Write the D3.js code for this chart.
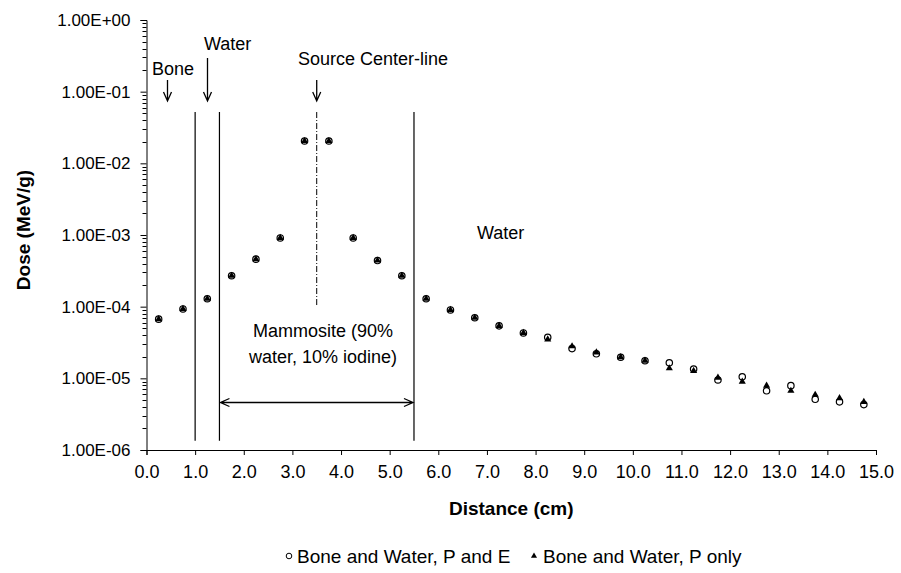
<!DOCTYPE html>
<html>
<head>
<meta charset="utf-8">
<script src="https://cdn.jsdelivr.net/npm/d3@7"></script>
<style>
  body { margin: 0; background: #fff; }
  text { font-family: Arial, "Liberation Sans", sans-serif; fill: #000; }
</style>
</head>
<body>
<div id="chart"></div>
<script>
// distances of the scoring bins (cm)
const distance = [0.25, 0.75, 1.25, 1.75, 2.25, 2.75, 3.25, 3.75, 4.25, 4.75,
  5.25, 5.75, 6.25, 6.75, 7.25, 7.75, 8.25, 8.75, 9.25, 9.75,
  10.25, 10.75, 11.25, 11.75, 12.25, 12.75, 13.25, 13.75, 14.25, 14.75];
// Bone and Water, P and E
const dosePE = [6.7e-5, 9.3e-5, 1.29e-4, 2.7e-4, 4.6e-4, 9.1e-4, 2.05e-2, 2.05e-2, 9.1e-4, 4.4e-4,
  2.7e-4, 1.29e-4, 9.0e-5, 7.0e-5, 5.4e-5, 4.3e-5, 3.74e-5, 2.6e-5, 2.2e-5, 1.97e-5,
  1.76e-5, 1.65e-5, 1.35e-5, 9.5e-6, 1.05e-5, 6.7e-6, 7.9e-6, 5.1e-6, 4.7e-6, 4.3e-6];
// Bone and Water, P only
const doseP = [6.7e-5, 9.3e-5, 1.29e-4, 2.7e-4, 4.6e-4, 9.1e-4, 2.05e-2, 2.05e-2, 9.1e-4, 4.4e-4,
  2.7e-4, 1.29e-4, 9.0e-5, 7.0e-5, 5.4e-5, 4.3e-5, 3.5e-5, 2.8e-5, 2.3e-5, 1.97e-5,
  1.76e-5, 1.38e-5, 1.27e-5, 1.02e-5, 9.0e-6, 7.9e-6, 6.7e-6, 5.9e-6, 5.3e-6, 4.7e-6];

const seriesNames = ['Bone and Water, P and E', 'Bone and Water, P only'];
const xTickValues = [0, 1, 2, 3, 4, 5, 6, 7, 8, 9, 10, 11, 12, 13, 14, 15];
const yTickValues = [1e-6, 1e-5, 1e-4, 1e-3, 1e-2, 1e-1, 1];
const yTickLabels = ['1.00E-06', '1.00E-05', '1.00E-04', '1.00E-03', '1.00E-02', '1.00E-01', '1.00E+00'];

// boundaries between the media (cm)
const boundaries = [1.0, 1.5, 5.5];
const sourceLine = 3.5;

const W = 901, H = 573;
const margin = {left: 146.5, right: 25, top: 20, bottom: 123};
const font = 'Arial, "Liberation Sans", sans-serif';

const svg = d3.select('#chart').append('svg')
  .attr('width', W)
  .attr('height', H);

const x = d3.scaleLinear().domain([0, 15]).range([margin.left, W - margin.right]);
const y = d3.scaleLog().domain([1e-6, 1]).range([H - margin.bottom, margin.top]);

// x axis
const xAxis = svg.append('g')
  .attr('transform', 'translate(0,' + y(1e-6) + ')')
  .call(d3.axisBottom(x).tickValues(xTickValues).tickSize(5).tickPadding(10).tickFormat(d3.format('.1f')));
xAxis.selectAll('text').style('font-size', '18px').style('font-family', font);

// y axis, major ticks
const yAxis = svg.append('g')
  .attr('transform', 'translate(' + x(0) + ',0)')
  .call(d3.axisLeft(y).tickValues(yTickValues).tickSize(6).tickPadding(10)
    .tickFormat((d, i) => yTickLabels[i]));
yAxis.selectAll('text').style('font-size', '17px').style('font-family', font);
svg.selectAll('.domain').attr('stroke', '#000');
svg.selectAll('.tick line').attr('stroke', '#000');

// minor ticks on the log axis
const minor = [];
yTickValues.slice(0, -1).forEach(v => {
  for (let k = 2; k <= 9; k++) minor.push(v * k);
});
svg.append('g').selectAll('line')
  .data(minor)
  .enter().append('line')
    .attr('x1', x(0) - 4).attr('x2', x(0))
    .attr('y1', d => Math.round(y(d)) + 0.5).attr('y2', d => Math.round(y(d)) + 0.5)
    .attr('stroke', '#000');

// axis titles
svg.append('text')
  .attr('transform', 'translate(23,230) rotate(-90)')
  .attr('text-anchor', 'middle')
  .attr('dy', '0.35em')
  .style('font-size', '19px')
  .style('font-weight', 'bold')
  .text('Dose (MeV/g)');

svg.append('text')
  .attr('x', (x(0) + x(15)) / 2)
  .attr('y', 515)
  .attr('text-anchor', 'middle')
  .style('font-size', '19px')
  .style('font-weight', 'bold')
  .text('Distance (cm)');

// medium boundary lines
svg.append('g').selectAll('line')
  .data(boundaries)
  .enter().append('line')
    .attr('x1', d => x(d)).attr('x2', d => x(d))
    .attr('y1', y(5.2e-2)).attr('y2', y(1.35e-6))
    .attr('stroke', '#000').attr('stroke-width', 1.2);

// source center-line
svg.append('line')
  .attr('x1', x(sourceLine)).attr('x2', x(sourceLine))
  .attr('y1', y(5.2e-2)).attr('y2', y(1.05e-4))
  .attr('stroke', '#000')
  .attr('stroke-dasharray', '6,2,1,2');

// arrows
function downArrow(px, y1, y2) {
  svg.append('path')
    .attr('d', `M${px},${y1}V${y2}M${px - 4},${y2 - 9}L${px},${y2}L${px + 4},${y2 - 9}`)
    .attr('fill', 'none').attr('stroke', '#000').attr('stroke-width', 1.3);
}
downArrow(167.5, 80, 101);
downArrow(207.5, 58, 101);
downArrow(x(sourceLine), 80, 101);

// mammosite width arrow
const ay = Math.round(y(4.7e-6)) + 0.5;
const ax1 = x(boundaries[1]) + 1, ax2 = x(boundaries[2]) - 1;
svg.append('path')
  .attr('d', `M${ax1},${ay}H${ax2}M${ax1 + 9},${ay - 4}L${ax1},${ay}L${ax1 + 9},${ay + 4}M${ax2 - 9},${ay - 4}L${ax2},${ay}L${ax2 - 9},${ay + 4}`)
  .attr('fill', 'none').attr('stroke', '#000').attr('stroke-width', 1.3);

// annotation labels
const labels = [
  {t: 'Bone', x: 152, y: 75, a: 'start'},
  {t: 'Water', x: 204, y: 50, a: 'start'},
  {t: 'Source Center-line', x: 298, y: 65, a: 'start'},
  {t: 'Water', x: 477, y: 239, a: 'start'},
  {t: 'Mammosite (90%', x: 323, y: 337, a: 'middle'},
  {t: 'water, 10% iodine)', x: 323, y: 363, a: 'middle'}
];
svg.append('g').selectAll('text')
  .data(labels)
  .enter().append('text')
    .attr('x', d => d.x).attr('y', d => d.y)
    .attr('text-anchor', d => d.a)
    .style('font-size', '18px')
    .text(d => d.t);

// data: circles first, triangles on top
const pts = distance.map((d, i) => ({x: d, pe: dosePE[i], p: doseP[i]}));
svg.append('g').selectAll('circle')
  .data(pts)
  .enter().append('circle')
    .attr('cx', d => x(d.x)).attr('cy', d => y(d.pe))
    .attr('r', 3.2)
    .attr('fill', '#fff').attr('stroke', '#000').attr('stroke-width', 1.2);

const tri = d3.symbol().type(d3.symbolTriangle).size(22);
svg.append('g').selectAll('path')
  .data(pts)
  .enter().append('path')
    .attr('d', tri)
    .attr('transform', d => 'translate(' + x(d.x) + ',' + y(d.p) + ')')
    .attr('fill', '#000');

// legend
const lg = svg.append('g').attr('transform', 'translate(0,556)');
lg.append('circle').attr('cx', 289).attr('cy', 0).attr('r', 2.8)
  .attr('fill', '#fff').attr('stroke', '#000');
lg.append('text').attr('x', 297).attr('dy', '0.35em').style('font-size', '19px').text(seriesNames[0]);
lg.append('path').attr('d', d3.symbol().type(d3.symbolTriangle).size(16))
  .attr('transform', 'translate(534,0)').attr('fill', '#000');
lg.append('text').attr('x', 543).attr('dy', '0.35em').style('font-size', '19px').text(seriesNames[1]);
</script>
</body>
</html>
